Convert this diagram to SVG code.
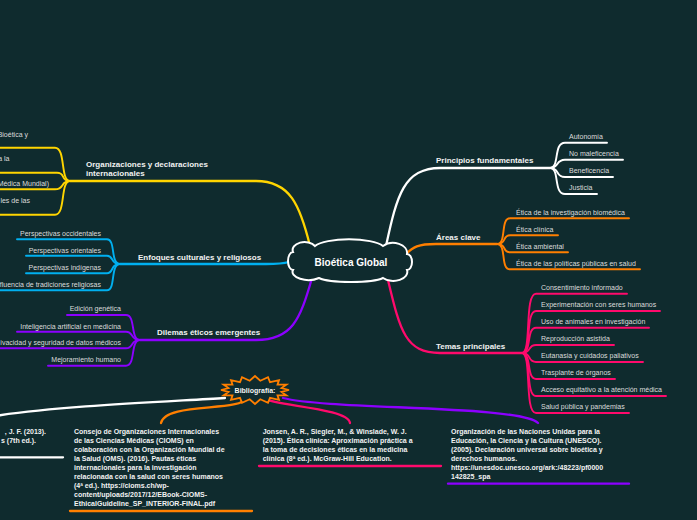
<svg xmlns="http://www.w3.org/2000/svg" width="697" height="520" viewBox="0 0 697 520">
<style>
.bg{fill:#0f2b2e}
.c{fill:none;stroke-linecap:round;stroke-linejoin:round}
.m{stroke-width:2.3}
.s{stroke-width:1.9}
.w{stroke:#ffffff}.y{stroke:#ffd500}.cy{stroke:#00b0f0}.p{stroke:#8c00ff}.k{stroke:#ff0a6c}.o{stroke:#ff7f00}
text{font-family:"Liberation Sans",Arial,sans-serif}
.lbl{font-size:8px;font-weight:bold;fill:#f2f2f2}
.ch{font-size:7px;fill:#dcdcdc}
.bib{font-size:7px;font-weight:bold;fill:#f2f2f2}
.end{text-anchor:end}
</style>
<rect class="bg" x="0" y="0" width="697" height="520"/>
<g id="connectors">
<path class="c m w" d="M386,246 C397,195 404,168 440,168 L550,168"/>
<path class="c m o" d="M406,254 C413,247 418,244 436,244 L497,244"/>
<path class="c m k" d="M388,280 C400,330 405,353 440,353 L522,353"/>
<path class="c m y" d="M310,246 C300,205 290,181 256,181 L70,181"/>
<path class="c m cy" d="M289,262 C282,264 276,264 266,264 L120,264"/>
<path class="c m p" d="M312,278 C300,320 292,340 256,340 L140,340"/>
<path class="c s w" d="M550,168 C560,168 553,142.7 565,142.7 L607,142.7"/>
<path class="c s w" d="M550,168 C560,168 555,159.7 565,159.7 L623,159.7"/>
<path class="c s w" d="M550,168 C560,168 555,177 565,177 L613,177"/>
<path class="c s w" d="M550,168 C560,168 553,194 565,194 L597,194"/>
<path class="c s o" d="M497,244 C507,244 500,218.3 510,218.3 L629,218.3"/>
<path class="c s o" d="M497,244 C507,244 502,235.3 510,235.3 L558,235.3"/>
<path class="c s o" d="M497,244 C507,244 502,252.3 510,252.3 L568,252.3"/>
<path class="c s o" d="M497,244 C507,244 500,269.3 510,269.3 L640,269.3"/>
<path class="c s k" d="M522,353 C532,353 524,293.7 536,293.7 L627,293.7"/>
<path class="c s k" d="M522,353 C532,353 525,311 536,311 L660,311"/>
<path class="c s k" d="M522,353 C532,353 526,327.7 536,327.7 L649,327.7"/>
<path class="c s k" d="M522,353 C532,353 527,345 536,345 L614,345"/>
<path class="c s k" d="M522,353 C532,353 527,362 536,362 L643,362"/>
<path class="c s k" d="M522,353 C532,353 526,379 536,379 L615,379"/>
<path class="c s k" d="M522,353 C532,353 525,396 536,396 L666,396"/>
<path class="c s k" d="M522,353 C532,353 524,413 536,413 L629,413"/>
<path class="c s y" d="M70,181 C60,181 66,147.7 55,147.7 L-5,147.7"/>
<path class="c s y" d="M70,181 C60,181 66,172.7 57,172.7 L-5,172.7"/>
<path class="c s y" d="M70,181 C60,181 65,189.3 55,189.3 L-5,189.3"/>
<path class="c s y" d="M70,181 C60,181 66,214.7 55,214.7 L-5,214.7"/>
<path class="c s cy" d="M120,264 C110,264 116,239.3 107,239.3 L17,239.3"/>
<path class="c s cy" d="M120,264 C110,264 114,255.7 107,255.7 L26,255.7"/>
<path class="c s cy" d="M120,264 C110,264 114,273.3 107,273.3 L26,273.3"/>
<path class="c s cy" d="M120,264 C110,264 116,290.3 107,290.3 L-5,290.3"/>
<path class="c s p" d="M140,340 C130,340 136,315 126,315 L67,315"/>
<path class="c s p" d="M140,340 C130,340 134,331.7 126,331.7 L17,331.7"/>
<path class="c s p" d="M140,340 C130,340 134,348.3 126,348.3 L-5,348.3"/>
<path class="c s p" d="M140,340 C130,340 136,365.7 126,365.7 L48,365.7"/>
<path class="c m w" d="M225,398 C160,402 60,406 -5,416"/>
<path class="c m o" d="M247,398 C240,412 165,402 161,423"/>
<path class="c m k" d="M263,398 C275,406 348,408 350,423"/>
<path class="c m p" d="M283,398 C330,410 520,405 538,423"/>
<path class="c m w" d="M-5,457.3 L63,457.3"/>
<path class="c m o" d="M70,511 L252,511"/>
<path class="c m k" d="M259,466 L441,466"/>
<path class="c m p" d="M448,483.7 L629,483.7"/>
</g>
<g id="central">
<path d="M293,252 a12,8 0 0 1 22,-6 a36,10 0 0 1 68,0 a14,10 0 0 1 24,8 a5,8 0 0 1 0,16 a14,9 0 0 1 -24,8 a34,6 0 0 1 -64,0 a16,8 0 0 1 -26,-8 a5,9 0 0 1 0,-18 Z" fill="#0f2b2e" stroke="#ffffff" stroke-width="2"/>
<text x="351" y="266" text-anchor="middle" style="font-size:10px;font-weight:bold;fill:#ffffff">Bioética Global</text>
</g>
<g id="principios">
<text class="lbl" x="436" y="163">Principios fundamentales</text>
<text class="ch" x="569" y="139.2">Autonomía</text>
<text class="ch" x="569" y="156.2">No maleficencia</text>
<text class="ch" x="569" y="173">Beneficencia</text>
<text class="ch" x="569" y="190">Justicia</text>
</g>
<g id="areas">
<text class="lbl" x="436" y="239.5">Áreas clave</text>
<text class="ch" x="516" y="214.8">Ética de la investigación biomédica</text>
<text class="ch" x="516" y="232.2">Ética clínica</text>
<text class="ch" x="516" y="248.8">Ética ambiental</text>
<text class="ch" x="516" y="265.5">Ética de las políticas públicas en salud</text>
</g>
<g id="temas">
<text class="lbl" x="436" y="348.5">Temas principales</text>
<text class="ch" x="541" y="289.8">Consentimiento informado</text>
<text class="ch" x="541" y="306.8">Experimentación con seres humanos</text>
<text class="ch" x="541" y="324.2">Uso de animales en investigación</text>
<text class="ch" x="541" y="341.2">Reproducción asistida</text>
<text class="ch" x="541" y="358.2">Eutanasia y cuidados paliativos</text>
<text class="ch" x="541" y="374.8">Trasplante de órganos</text>
<text class="ch" x="541" y="391.8">Acceso equitativo a la atención médica</text>
<text class="ch" x="541" y="409.2">Salud pública y pandemias</text>
</g>
<g id="organizaciones">
<text class="lbl" x="86" y="167">Organizaciones y declaraciones</text>
<text class="lbl" x="86" y="176">internacionales</text>
<text class="ch end" x="28" y="136.5">Bioética y</text>
<text class="ch end" x="9.5" y="160.8">a la</text>
<text class="ch end" x="49" y="185.8">Médica Mundial)</text>
<text class="ch end" x="30" y="202.8">les de las</text>
</g>
<g id="enfoques">
<text class="lbl" x="138" y="260.3">Enfoques culturales y religiosos</text>
<text class="ch end" x="101" y="236.2">Perspectivas occidentales</text>
<text class="ch end" x="101" y="253.2">Perspectivas orientales</text>
<text class="ch end" x="101" y="269.8">Perspectivas indígenas</text>
<text class="ch end" x="101" y="286.8">fluencia de tradiciones religiosas</text>
</g>
<g id="dilemas">
<text class="lbl" x="157" y="335">Dilemas éticos emergentes</text>
<text class="ch end" x="121" y="310.8">Edición genética</text>
<text class="ch end" x="121" y="328.5">Inteligencia artificial en medicina</text>
<text class="ch end" x="121" y="345.2">ivacidad y seguridad de datos médicos</text>
<text class="ch end" x="121" y="361.8">Mejoramiento humano</text>
</g>
<g id="bibliografia">
<polygon points="289,390 281.5,391.9 286.4,395.4 277.5,395.3 279,399.9 270,397.9 268,402.9 260.3,399.3 255,404 249.7,399.3 242,402.9 240,397.9 231,399.9 232.5,395.3 223.6,395.4 228.5,391.9 221,390 228.5,388.1 223.6,384.6 232.5,384.7 231,380.1 240,382.1 242,377.1 249.7,380.7 255,376 260.3,380.7 268,377.1 270,382.1 279,380.1 277.5,384.7 286.4,384.6 281.5,388.1" fill="#0f2b2e" stroke="#ff7f00" stroke-width="1.8" stroke-linejoin="miter"/>
<text class="bib" x="255" y="392.5" text-anchor="middle">Bibliografía:</text>
</g>
<g id="ref-left">
<text class="bib end" x="46" y="434.2">, J. F. (2013).</text>
<text class="bib end" x="36" y="443.2">s (7th ed.).</text>
</g>
<g id="ref-cioms">
<text class="bib" x="74" y="434.2">Consejo de Organizaciones Internacionales</text>
<text class="bib" x="74" y="443.15">de las Ciencias Médicas (CIOMS) en</text>
<text class="bib" x="74" y="452.1">colaboración con la Organización Mundial de</text>
<text class="bib" x="74" y="461.05">la Salud (OMS). (2016). Pautas éticas</text>
<text class="bib" x="74" y="470">internacionales para la investigación</text>
<text class="bib" x="74" y="478.95">relacionada con la salud con seres humanos</text>
<text class="bib" x="74" y="487.9">(4ª ed.). https://cioms.ch/wp-</text>
<text class="bib" x="74" y="496.85">content/uploads/2017/12/EBook-CIOMS-</text>
<text class="bib" x="74" y="505.8">EthicalGuideline_SP_INTERIOR-FINAL.pdf</text>
</g>
<g id="ref-jonsen">
<text class="bib" x="262.7" y="434.2">Jonsen, A. R., Siegler, M., &amp; Winslade, W. J.</text>
<text class="bib" x="262.7" y="443.15">(2015). Ética clínica: Aproximación práctica a</text>
<text class="bib" x="262.7" y="452.1">la toma de decisiones éticas en la medicina</text>
<text class="bib" x="262.7" y="461.05">clínica (8ª ed.). McGraw-Hill Education.</text>
</g>
<g id="ref-unesco">
<text class="bib" x="451" y="434.2">Organización de las Naciones Unidas para la</text>
<text class="bib" x="451" y="443.15">Educación, la Ciencia y la Cultura (UNESCO).</text>
<text class="bib" x="451" y="452.1">(2005). Declaración universal sobre bioética y</text>
<text class="bib" x="451" y="461.05">derechos humanos.</text>
<text class="bib" x="451" y="470">https://unesdoc.unesco.org/ark:/48223/pf0000</text>
<text class="bib" x="451" y="478.95">142825_spa</text>
</g>
</svg>
